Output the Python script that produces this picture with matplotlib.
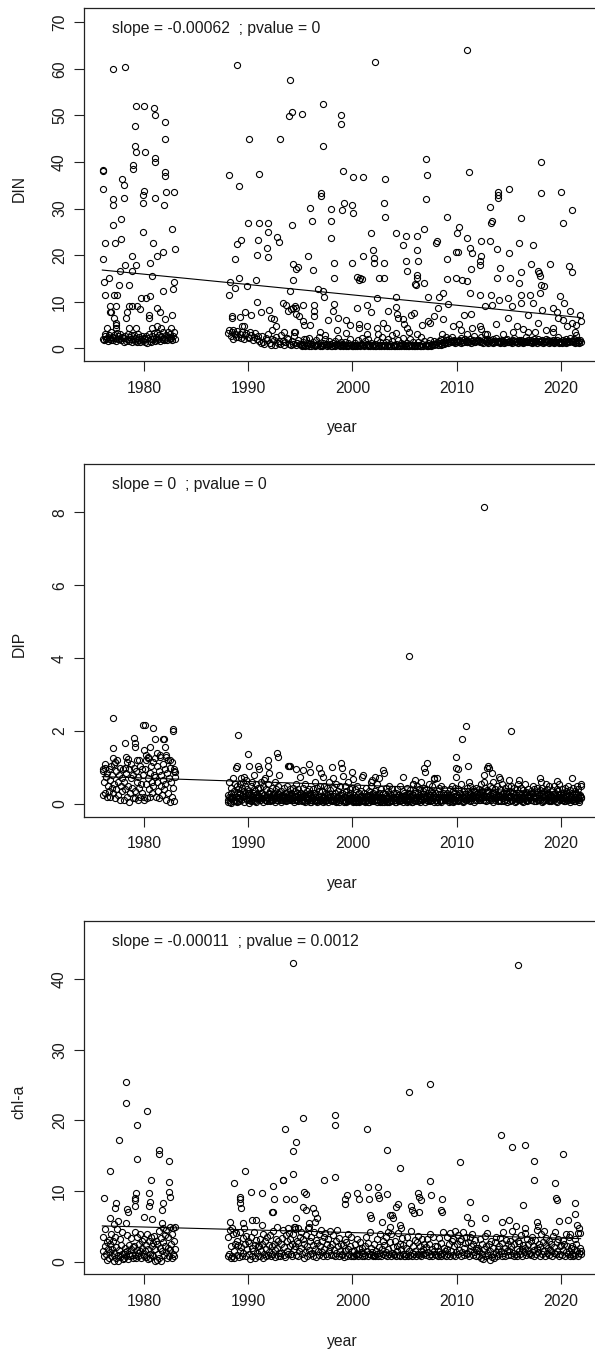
import matplotlib
matplotlib.use("Agg")
import matplotlib.pyplot as plt

plt.rcParams['font.family'] = ['Liberation Sans', 'DejaVu Sans']

# ---------------- data ----------------
x_ticks = [1980, 1990, 2000, 2010, 2020]
band_years = list(range(1976, 1983)) + list(range(1988, 2022))
late_years = list(range(1988, 2022))

# DIN: individually read points (year, value)
din_points = [
    (1976.05, 38.0), (1976.1, 38.3), (1976.05, 34.1), (1976.3, 22.7), (1976.1, 19.2), (1976.6, 15.1),
    (1976.2, 14.3), (1976.3, 11.4), (1976.7, 9.1), (1976.7, 7.7), (1976.8, 7.7), (1976.4, 4.3),
    (1977.05, 60.0), (1977.0, 32.1), (1977.0, 30.8), (1977.0, 26.5), (1977.2, 22.7), (1977.1, 11.4),
    (1977.4, 11.4), (1977.3, 9.1), (1977.1, 6.6), (1977.3, 5.5), (1977.3, 5.0), (1977.3, 4.3),
    (1977.6, 13.6), (1977.7, 16.6), (1977.8, 23.5), (1977.8, 27.8), (1977.9, 36.4),
    (1978.1, 35.0), (1978.1, 32.2), (1978.2, 60.5), (1978.2, 17.8), (1978.3, 6.5), (1978.4, 7.7),
    (1978.6, 9.1), (1978.6, 13.6), (1978.6, 4.3), (1978.8, 16.5), (1978.8, 19.8), (1978.9, 39.3),
    (1978.95, 38.5), (1978.8, 9.1),
    (1979.1, 47.7), (1979.1, 43.5), (1979.2, 42.1), (1979.2, 52.0), (1979.2, 17.8), (1979.2, 4.3),
    (1979.3, 9.1), (1979.6, 8.4), (1979.7, 10.7),
    (1979.9, 32.9), (1979.9, 31.3), (1979.9, 25.0), (1980.0, 52.0), (1980.0, 33.7), (1980.1, 42.1),
    (1980.2, 10.7), (1980.5, 7.2), (1980.5, 6.6), (1980.6, 11.3), (1980.6, 18.4), (1980.8, 15.6),
    (1980.8, 4.3), (1980.9, 22.7),
    (1981.0, 51.5), (1981.1, 50.1), (1981.1, 40.8), (1981.1, 40.0), (1981.1, 32.2), (1981.2, 19.8),
    (1981.2, 8.6), (1981.2, 4.7), (1981.5, 7.7), (1981.6, 4.4), (1981.8, 20.7), (1981.8, 12.2),
    (1981.9, 30.8),
    (1982.0, 48.6), (1982.0, 44.9), (1982.0, 37.9), (1982.05, 37.0), (1982.1, 33.6), (1982.0, 6.3),
    (1982.6, 4.3), (1982.7, 7.1), (1982.7, 25.6), (1982.8, 12.8), (1982.9, 14.3), (1982.9, 33.6),
    (1983.0, 21.3),
    (1988.2, 11.4), (1988.3, 14.3), (1988.4, 6.9), (1988.4, 6.5), (1988.5, 3.9), (1988.7, 3.1),
    (1988.7, 13.0), (1988.7, 19.2), (1988.9, 22.5), (1989.1, 15.0), (1989.1, 34.9), (1988.2, 37.2),
    (1988.95, 60.8), (1990.1, 44.9), (1991.0, 37.5), (1993.05, 44.9),
    (1989.3, 23.3), (1989.4, 4.7), (1989.6, 4.7), (1989.7, 7.8), (1989.9, 13.4), (1990.0, 27.0),
    (1989.2, 6.8), (1990.3, 7.1), (1990.7, 14.7), (1990.8, 20.0), (1990.8, 10.0), (1990.9, 23.3),
    (1991.0, 27.0), (1991.2, 7.7), (1991.8, 21.6), (1991.9, 19.6), (1991.9, 27.0), (1991.9, 25.0),
    (1992.0, 8.3), (1992.2, 6.5), (1992.5, 6.3), (1992.7, 4.8), (1992.3, 3.9), (1992.8, 24.0),
    (1993.0, 22.9), (1993.3, 9.7), (1993.6, 9.2), (1993.8, 7.9), (1994.1, 8.5), (1994.5, 9.1),
    (1993.4, 3.5), (1994.4, 3.5), (1994.2, 26.5), (1994.3, 18.2), (1994.6, 17.0), (1994.3, 14.7),
    (1993.95, 49.9), (1994.2, 50.8), (1994.05, 57.7), (1994.0, 12.3), (1994.8, 17.4),
    (1995.2, 50.3), (1997.2, 52.4), (1998.9, 50.1), (1998.95, 48.1), (2002.2, 61.4), (2011.0, 64.0),
    (1997.2, 43.5), (2007.1, 40.6), (2007.2, 37.2), (2011.2, 37.9), (2018.1, 40.1), (1999.1, 38.1),
    (2000.1, 36.8), (2001.0, 36.8), (2003.1, 36.4), (1997.0, 33.3), (1997.0, 32.6), (2014.0, 33.6),
    (2014.0, 32.9), (2014.0, 32.2), (2015.0, 34.1), (2018.1, 33.3), (2020.0, 33.6), (2021.1, 29.6),
    (2020.2, 26.8), (1995.9, 30.1), (1996.1, 27.3), (1997.9, 30.0), (1997.9, 27.3), (1997.9, 23.6),
    (1999.0, 29.6), (1999.2, 31.3), (2000.0, 30.8), (2000.1, 29.0), (2003.0, 31.3), (2003.1, 28.1),
    (2007.1, 32.1), (1995.7, 19.9), (1996.2, 16.8),
    (1998.2, 18.3), (1998.2, 15.1), (2000.0, 18.3), (2000.4, 15.3), (2000.6, 14.6), (2000.7, 15.0),
    (2000.9, 14.9), (2001.0, 19.9), (2001.8, 24.7), (2002.0, 21.0), (2002.1, 19.4), (2002.1, 18.3),
    (2003.0, 18.3), (2002.6, 15.1), (2003.0, 15.1), (2004.2, 24.8), (2005.1, 24.2), (2006.2, 24.2),
    (2006.9, 25.6), (2004.9, 22.2), (2006.2, 21.0), (2005.1, 18.8), (2006.3, 18.8), (2005.2, 16.6),
    (2006.2, 15.8), (2006.2, 15.1), (2006.0, 13.9), (2006.1, 13.6), (2006.9, 14.0), (2008.0, 22.7),
    (2008.1, 23.0), (2009.1, 28.1), (2010.0, 24.8), (2010.2, 26.0), (2011.0, 23.6), (2009.1, 19.2),
    (2009.9, 20.6), (2010.1, 20.6), (2009.1, 14.8), (2009.9, 15.2), (2010.5, 14.6), (2011.0, 14.4),
    (2011.3, 21.5), (2011.5, 20.5), (2011.4, 17.1), (2012.3, 23.1), (2012.3, 19.9), (2012.2, 18.8),
    (2012.2, 17.9), (2013.2, 23.0), (2013.3, 27.0), (2013.35, 27.3), (2013.2, 30.4), (2013.9, 21.3),
    (2015.0, 20.5), (2014.2, 17.3), (2013.9, 15.1), (2015.1, 15.0), (2016.0, 22.6), (2016.2, 28.0),
    (2017.3, 22.2), (2016.2, 16.4), (2017.1, 18.1), (2017.8, 16.5), (2017.9, 16.2), (2018.0, 15.6),
    (2019.0, 18.0), (2018.1, 13.6), (2016.0, 14.0), (2020.8, 17.6), (2021.1, 16.3), (2019.9, 11.3),
    (2020.3, 9.8),
    (1994.3, 8.7), (1994.6, 8.7), (1995.3, 9.4), (1995.3, 5.8), (1995.4, 5.1), (1996.3, 9.4),
    (1996.3, 8.0), (1996.3, 6.9), (1996.7, 12.8), (1997.2, 12.4), (1997.3, 11.1), (1995.9, 5.1),
    (1997.7, 6.1), (1998.1, 8.0), (1998.2, 9.6), (1999.4, 6.1), (2000.4, 8.7), (2000.6, 5.3),
    (2001.4, 9.4), (2001.8, 7.7), (2002.4, 10.8), (2004.2, 11.1), (2004.2, 8.9), (2004.3, 7.3),
    (2004.4, 6.5), (2004.9, 6.3), (2005.6, 7.2), (2005.9, 7.6), (2007.3, 11.1), (2008.3, 11.1),
    (2008.7, 11.9), (2009.2, 9.6), (2008.2, 8.7), (2007.8, 6.9), (2008.7, 6.3), (2007.3, 5.8),
    (2009.7, 4.7), (2010.2, 5.3), (2010.7, 7.2), (2011.4, 7.4), (2011.3, 11.8), (2012.2, 11.4),
    (2013.3, 11.4), (2013.4, 9.4), (2012.7, 9.1), (2014.1, 10.4), (2014.9, 10.8), (2015.3, 9.1),
    (2014.9, 6.5), (2016.2, 11.4), (2016.2, 9.7), (2017.0, 11.4), (2017.3, 9.7), (2018.0, 11.8),
    (2018.4, 13.4), (2018.2, 8.3), (2016.9, 7.2), (2017.8, 5.4), (2019.3, 8.6), (2019.6, 7.7),
    (2020.9, 8.1), (2021.8, 7.2), (2021.9, 5.8), (2021.5, 5.1), (2019.7, 6.5), (2020.2, 6.1),
    (1994.6, 7.4), (1994.9, 6.9), (1998.6, 6.4), (1999.8, 4.9), (2002.9, 5.5), (2003.4, 7.9),
    (2005.0, 5.2),
    (1994.5, 3.6), (1995.4, 2.1), (1996.9, 3.6), (1997.4, 2.9), (1998.5, 4.0), (1999.4, 3.2),
    (2000.6, 4.3), (2001.4, 4.7), (2001.4, 3.1), (2002.4, 4.3), (2002.5, 3.1), (2003.3, 4.3),
    (2003.8, 2.9), (2004.2, 3.2), (2005.2, 4.3), (2005.4, 3.4), (2006.2, 3.1), (2006.7, 5.0),
    (2007.4, 5.4), (2008.6, 3.1), (2009.0, 2.5), (2010.4, 4.0), (2011.0, 3.1), (2011.5, 4.3),
    (2012.2, 4.7), (2012.3, 4.1), (2012.9, 3.1), (2013.8, 5.2), (2014.5, 3.1), (2015.4, 3.6),
    (2015.8, 4.7), (2016.4, 4.1), (2016.9, 3.6), (2017.5, 3.4), (2018.6, 4.0), (2019.3, 4.3),
    (2019.3, 3.6), (2020.6, 4.7), (2021.1, 5.4), (2021.4, 3.6), (2021.5, 2.9),
]

# DIN: routine low-level samples, one row per year (spread through the year)
din_band = [
    [2.0, 1.7, 2.6, 3.1, 1.9, 2.3, 1.6, 2.8, 2.1, 3.4, 1.8, 2.5],
    [1.8, 2.9, 2.2, 1.5, 3.3, 2.0, 2.6, 1.9, 3.0, 1.7, 2.4, 2.2],
    [1.3, 2.2, 2.7, 1.6, 2.0, 3.0, 1.5, 2.4, 1.9, 2.8, 1.4, 2.1],
    [2.9, 1.5, 2.2, 1.3, 3.1, 1.8, 2.5, 1.4, 2.0, 2.7, 1.6, 2.3],
    [2.0, 1.4, 2.7, 1.2, 2.3, 3.0, 1.6, 2.1, 1.3, 2.6, 1.9, 3.2],
    [1.6, 2.4, 3.2, 1.8, 2.1, 2.9, 1.5, 2.6, 2.0, 3.4, 1.7, 2.3],
    [2.0, 2.8, 1.7, 3.5, 2.4, 1.9, 3.0, 2.2, 1.8, 2.7, 3.6, 2.1],
    [3.2, 4.0, 2.6, 3.5, 1.9, 3.0, 2.4, 3.7],
    [2.4, 3.1, 2.2, 3.6, 2.0, 2.8, 3.3, 2.5],
    [2.2, 3.4, 2.9, 1.8, 2.5, 3.2, 2.0, 2.7],
    [1.5, 1.1, 2.6, 1.4, 0.9, 2.2, 1.8, 3.0],
    [1.2, 0.6, 1.9, 1.7, 0.8, 2.4, 1.1, 1.5],
    [1.0, 2.8, 1.6, 0.7, 1.3, 2.2, 1.9, 0.9],
    [0.8, 1.5, 1.0, 2.6, 0.7, 1.2, 1.8, 0.9],
    [0.6, 1.0, 0.4, 1.4, 0.8, 0.5, 1.9, 0.7, 1.1, 0.5, 2.3, 0.9],
    [0.5, 0.9, 1.3, 0.6, 0.4, 1.7, 0.8, 0.6, 1.0, 2.4, 0.5, 0.7],
    [0.8, 0.5, 1.2, 0.6, 2.0, 0.9, 0.4, 0.7, 1.5, 0.6, 1.0, 0.5],
    [0.4, 1.1, 0.7, 0.5, 1.6, 0.9, 0.6, 2.2, 0.8, 0.5, 1.3, 0.7],
    [0.9, 0.4, 0.6, 1.4, 0.5, 0.8, 1.1, 0.4, 0.7, 2.0, 0.6, 0.5],
    [0.5, 0.8, 0.4, 1.2, 0.6, 0.5, 1.8, 0.7, 0.4, 1.0, 0.6, 2.3],
    [0.7, 0.4, 1.5, 0.6, 0.9, 0.5, 2.1, 0.8, 0.4, 1.2, 0.6, 0.5],
    [0.6, 1.0, 0.5, 0.4, 1.8, 0.7, 0.5, 1.3, 0.6, 0.4, 2.5, 0.8],
    [0.5, 0.7, 1.4, 0.4, 0.6, 2.0, 0.5, 0.9, 0.4, 1.6, 0.6, 0.5],
    [0.4, 0.6, 0.9, 0.5, 1.7, 0.4, 0.7, 0.5, 1.2, 0.6, 2.2, 0.5],
    [0.6, 0.4, 1.1, 0.5, 0.8, 0.4, 1.9, 0.6, 0.5, 1.4, 0.4, 0.7],
    [0.5, 0.8, 0.4, 1.3, 0.6, 0.5, 2.4, 0.4, 0.9, 0.5, 1.6, 0.6],
    [0.7, 0.5, 1.2, 0.4, 0.6, 1.8, 0.5, 0.8, 1.0, 0.6, 1.5, 0.9],
    [0.9, 1.3, 0.7, 1.6, 1.1, 0.8, 2.1, 1.0, 1.4, 0.9, 1.2, 1.8],
    [1.4, 1.7, 1.2, 1.9, 1.5, 1.3, 2.4, 1.6, 1.4, 1.8, 1.2, 1.5],
    [1.6, 1.3, 1.8, 1.5, 1.2, 2.2, 1.4, 1.7, 1.3, 1.9, 1.5, 1.4],
    [1.3, 1.6, 1.4, 2.0, 1.2, 1.5, 1.7, 1.3, 2.6, 1.4, 1.6, 1.8],
    [1.5, 1.8, 1.3, 1.6, 2.4, 1.4, 1.2, 1.7, 3.0, 1.5, 1.3, 1.9],
    [1.2, 1.5, 1.7, 1.3, 1.4, 1.9, 1.2, 1.6, 1.4, 2.2, 1.3, 1.5],
    [1.4, 1.2, 1.6, 1.3, 1.8, 1.5, 1.2, 1.4, 1.7, 1.3, 2.0, 1.4],
    [1.3, 1.6, 1.4, 1.2, 1.7, 1.5, 2.3, 1.3, 1.4, 1.6, 1.2, 1.8],
    [1.5, 1.3, 1.8, 1.4, 1.2, 1.6, 1.3, 2.5, 1.5, 1.4, 1.7, 1.3],
    [1.4, 1.7, 1.2, 1.5, 1.3, 1.9, 1.4, 1.6, 1.2, 2.1, 1.5, 1.3],
    [1.3, 1.5, 1.7, 1.2, 1.4, 1.6, 2.0, 1.3, 1.5, 1.8, 1.2, 1.4],
    [1.6, 1.3, 1.4, 1.8, 1.2, 1.5, 1.3, 1.7, 2.4, 1.4, 1.2, 1.6],
    [1.4, 1.2, 1.7, 1.3, 1.5, 1.9, 1.2, 1.4, 1.6, 1.3, 2.2, 1.5],
    [1.5, 1.3, 1.6, 2.0, 1.2, 1.4, 1.8, 1.3, 1.5, 1.2, 1.7, 1.4],
]

# DIP
dip_points = [
    (1977.05, 2.35), (1979.95, 2.17), (1980.05, 2.17), (1980.9, 2.08), (1982.75, 2.05), (1982.8, 2.0),
    (1979.0, 1.82), (1978.2, 1.66), (1979.1, 1.66), (1979.15, 1.57), (1981.1, 1.78), (1981.8, 1.78),
    (1981.9, 1.78), (1977.0, 1.53), (1980.0, 1.48), (1980.6, 1.57), (1982.0, 1.55), (1977.0, 1.25),
    (1977.2, 1.15), (1978.3, 1.28), (1978.5, 1.22), (1979.5, 1.2), (1980.2, 1.35), (1980.4, 1.25),
    (1981.2, 1.4), (1981.5, 1.3), (1982.1, 1.35), (1982.5, 1.2), (1982.9, 0.95), (1983.0, 0.88),
    (1976.1, 0.95), (1976.3, 1.1),
    (1989.0, 1.88), (1990.0, 1.37), (1988.8, 1.0), (1988.9, 1.05), (1990.1, 1.03), (1990.9, 1.03),
    (1991.0, 0.95), (1991.9, 1.2), (1991.9, 1.05), (1992.0, 0.85), (1992.8, 1.4), (1992.9, 1.28),
    (1993.8, 1.05), (1993.9, 1.05), (1994.6, 0.95), (1989.6, 0.75), (1990.6, 0.8), (1991.5, 0.65),
    (1993.0, 0.8),
    (1994.0, 1.04), (1995.0, 0.75), (1995.3, 0.93), (1995.8, 1.1), (1995.9, 0.89), (1996.8, 0.98),
    (1997.0, 0.86), (1997.2, 0.75), (1998.0, 1.02), (1998.1, 0.70), (1998.9, 1.12), (1999.0, 0.98),
    (1999.05, 0.77), (2000.0, 0.89), (2000.1, 0.68), (2000.9, 0.73), (2001.0, 0.80), (2001.9, 0.66),
    (2002.2, 0.75), (2002.6, 0.70), (2002.9, 0.93), (2003.0, 0.84), (2001.8, 0.61),
    (2004.9, 0.73), (2005.4, 4.07), (2007.2, 1.12), (2006.9, 1.0), (2007.0, 0.89), (2008.1, 0.72),
    (2007.8, 0.68), (2009.9, 1.3), (2009.9, 1.0), (2010.1, 0.95), (2010.5, 1.78), (2010.9, 2.14),
    (2011.05, 1.05), (2009.9, 0.73), (2011.2, 0.61), (2006.0, 0.65), (2005.8, 0.55),
    (2012.6, 8.15), (2012.9, 1.0), (2013.1, 0.98), (2013.4, 0.86), (2014.1, 0.73), (2014.2, 0.68),
    (2015.2, 2.0), (2015.0, 0.66), (2016.0, 0.66), (2018.0, 0.70), (2018.1, 0.61), (2019.6, 0.63),
    (2021.1, 0.70), (2021.9, 0.48), (2012.6, 0.8), (2013.0, 1.05),
]

dip_band = [
    [0.9, 0.25, 0.6, 1.0, 0.3, 0.75, 0.2, 0.85, 0.5, 0.95, 0.35, 0.65, 0.2, 1.05, 0.45, 0.8],
    [0.3, 1.1, 0.55, 0.15, 0.9, 0.4, 1.2, 0.6, 0.25, 0.8, 0.1, 1.0, 0.5, 0.7, 0.35, 0.95],
    [0.6, 0.1, 1.0, 0.4, 0.85, 0.2, 1.15, 0.5, 0.05, 0.95, 0.3, 0.7, 1.1, 0.45, 0.15, 0.8],
    [1.0, 0.35, 0.15, 0.9, 0.6, 1.2, 0.1, 0.75, 0.45, 1.05, 0.2, 0.55, 0.95, 0.3, 0.8, 0.12],
    [0.2, 0.95, 0.55, 1.2, 0.15, 0.7, 1.3, 0.4, 0.85, 0.2, 1.05, 0.6, 0.3, 1.15, 0.5, 0.8],
    [0.75, 1.25, 0.2, 0.6, 1.05, 0.35, 0.9, 0.15, 1.35, 0.5, 0.8, 0.25, 1.1, 0.65, 0.4, 0.95],
    [0.55, 1.3, 0.1, 0.85, 1.2, 0.3, 0.7, 0.05, 1.0, 0.6, 0.2, 1.15, 0.45, 0.9, 0.08, 0.75],
    [0.05, 0.25, 0.6, 0.15, 0.03, 0.45, 0.2, 0.7, 0.1, 0.35, 0.55, 0.08, 0.3, 0.5],
    [0.4, 0.15, 0.55, 0.3, 0.7, 0.45, 0.2, 0.6, 0.35, 0.5, 0.25, 0.65, 0.4, 0.3],
    [0.03, 0.3, 0.15, 0.5, 0.1, 0.6, 0.2, 0.4, 0.08, 0.35, 0.55, 0.15, 0.45, 0.25],
    [0.2, 0.45, 0.1, 0.6, 0.3, 0.15, 0.5, 0.25, 0.7, 0.12, 0.4, 0.2, 0.55, 0.3],
    [0.15, 0.35, 0.1, 0.25, 0.45, 0.12, 0.3, 0.6, 0.18, 0.4, 0.1, 0.28, 0.5, 0.2],
    [0.12, 0.2, 0.35, 0.1, 0.25, 0.15, 0.45, 0.12, 0.3, 0.2, 0.5, 0.15, 0.28, 0.4],
    [0.15, 0.3, 0.12, 0.22, 0.45, 0.1, 0.35, 0.18, 0.55, 0.12, 0.25, 0.4, 0.15, 0.3],
    [0.1, 0.3, 0.18, 0.45, 0.08, 0.25, 0.55, 0.15, 0.35, 0.1, 0.22, 0.4, 0.12, 0.3],
    [0.25, 0.1, 0.4, 0.15, 0.3, 0.6, 0.08, 0.2, 0.45, 0.12, 0.35, 0.18, 0.5, 0.1],
    [0.15, 0.35, 0.1, 0.5, 0.2, 0.08, 0.3, 0.45, 0.12, 0.25, 0.6, 0.1, 0.38, 0.2],
    [0.1, 0.22, 0.45, 0.12, 0.3, 0.08, 0.55, 0.18, 0.35, 0.1, 0.25, 0.5, 0.15, 0.3],
    [0.3, 0.12, 0.2, 0.5, 0.08, 0.35, 0.15, 0.6, 0.1, 0.25, 0.4, 0.12, 0.2, 0.45],
    [0.08, 0.25, 0.12, 0.4, 0.06, 0.2, 0.5, 0.1, 0.3, 0.08, 0.18, 0.35, 0.1, 0.22],
    [0.12, 0.3, 0.08, 0.2, 0.45, 0.1, 0.25, 0.06, 0.35, 0.15, 0.5, 0.1, 0.28, 0.18],
    [0.2, 0.08, 0.35, 0.12, 0.25, 0.55, 0.1, 0.3, 0.15, 0.06, 0.4, 0.2, 0.1, 0.3],
    [0.1, 0.28, 0.45, 0.15, 0.06, 0.35, 0.2, 0.5, 0.1, 0.25, 0.08, 0.4, 0.18, 0.3],
    [0.15, 0.06, 0.3, 0.2, 0.4, 0.1, 0.25, 0.08, 0.5, 0.18, 0.12, 0.35, 0.22, 0.1],
    [0.25, 0.1, 0.18, 0.45, 0.08, 0.3, 0.12, 0.38, 0.2, 0.06, 0.28, 0.55, 0.15, 0.35],
    [0.3, 0.12, 0.5, 0.2, 0.08, 0.4, 0.15, 0.28, 0.6, 0.1, 0.35, 0.18, 0.45, 0.22],
    [0.15, 0.4, 0.1, 0.3, 0.55, 0.2, 0.08, 0.35, 0.12, 0.5, 0.25, 0.7, 0.18, 0.3],
    [0.2, 0.1, 0.35, 0.15, 0.45, 0.08, 0.28, 0.5, 0.12, 0.3, 0.18, 0.4, 0.1, 0.25],
    [0.12, 0.3, 0.2, 0.06, 0.4, 0.15, 0.25, 0.5, 0.1, 0.35, 0.08, 0.22, 0.45, 0.18],
    [0.25, 0.08, 0.4, 0.18, 0.3, 0.1, 0.55, 0.2, 0.06, 0.35, 0.15, 0.28, 0.12, 0.45],
    [0.1, 0.35, 0.2, 0.5, 0.08, 0.28, 0.15, 0.4, 0.25, 0.06, 0.32, 0.18, 0.45, 0.12],
    [0.2, 0.4, 0.1, 0.3, 0.55, 0.15, 0.35, 0.25, 0.6, 0.12, 0.45, 0.22, 0.38, 0.3],
    [0.35, 0.2, 0.5, 0.25, 0.12, 0.45, 0.3, 0.6, 0.18, 0.4, 0.28, 0.15, 0.5, 0.22],
    [0.25, 0.1, 0.4, 0.2, 0.55, 0.15, 0.3, 0.08, 0.45, 0.22, 0.35, 0.12, 0.28, 0.5],
    [0.15, 0.35, 0.22, 0.5, 0.1, 0.3, 0.18, 0.45, 0.25, 0.08, 0.4, 0.2, 0.55, 0.12],
    [0.3, 0.12, 0.45, 0.2, 0.08, 0.38, 0.25, 0.55, 0.15, 0.32, 0.1, 0.42, 0.2, 0.28],
    [0.2, 0.35, 0.1, 0.28, 0.5, 0.15, 0.4, 0.22, 0.08, 0.32, 0.45, 0.12, 0.25, 0.38],
    [0.12, 0.3, 0.45, 0.18, 0.08, 0.35, 0.22, 0.55, 0.15, 0.4, 0.25, 0.1, 0.5, 0.2],
    [0.25, 0.1, 0.38, 0.2, 0.48, 0.12, 0.3, 0.08, 0.42, 0.18, 0.35, 0.55, 0.15, 0.28],
    [0.18, 0.4, 0.12, 0.3, 0.08, 0.45, 0.22, 0.35, 0.1, 0.5, 0.25, 0.15, 0.38, 0.2],
    [0.3, 0.12, 0.45, 0.2, 0.35, 0.08, 0.28, 0.5, 0.15, 0.4, 0.1, 0.25, 0.55, 0.18],
]

# DIP: second station low-level samples, 1988-2021
dip_band2 = [
    [0.1, 0.2, 0.05, 0.3, 0.15, 0.08, 0.25, 0.12, 0.2, 0.06],
    [0.18, 0.08, 0.28, 0.12, 0.22, 0.05, 0.3, 0.15, 0.1, 0.25],
    [0.12, 0.25, 0.08, 0.18, 0.3, 0.1, 0.2, 0.05, 0.28, 0.15],
    [0.22, 0.1, 0.3, 0.15, 0.06, 0.25, 0.12, 0.2, 0.08, 0.28],
    [0.08, 0.2, 0.12, 0.28, 0.15, 0.05, 0.22, 0.1, 0.3, 0.18],
    [0.15, 0.06, 0.25, 0.1, 0.2, 0.3, 0.08, 0.18, 0.12, 0.22],
    [0.1, 0.28, 0.15, 0.05, 0.22, 0.12, 0.3, 0.08, 0.18, 0.25],
    [0.2, 0.08, 0.12, 0.25, 0.06, 0.18, 0.1, 0.28, 0.15, 0.05],
    [0.06, 0.18, 0.25, 0.1, 0.3, 0.12, 0.05, 0.2, 0.08, 0.22],
    [0.15, 0.05, 0.2, 0.08, 0.12, 0.25, 0.06, 0.18, 0.28, 0.1],
    [0.08, 0.22, 0.1, 0.3, 0.05, 0.15, 0.2, 0.06, 0.12, 0.25],
    [0.12, 0.06, 0.18, 0.05, 0.25, 0.08, 0.15, 0.3, 0.1, 0.2],
    [0.05, 0.15, 0.08, 0.2, 0.1, 0.28, 0.06, 0.12, 0.22, 0.08],
    [0.18, 0.1, 0.05, 0.22, 0.12, 0.06, 0.25, 0.15, 0.08, 0.3],
    [0.1, 0.25, 0.12, 0.06, 0.18, 0.3, 0.08, 0.2, 0.05, 0.15],
    [0.06, 0.12, 0.22, 0.08, 0.15, 0.05, 0.28, 0.1, 0.18, 0.12],
    [0.12, 0.05, 0.18, 0.25, 0.08, 0.15, 0.1, 0.22, 0.06, 0.3],
    [0.2, 0.1, 0.06, 0.15, 0.28, 0.08, 0.18, 0.05, 0.25, 0.12],
    [0.08, 0.18, 0.3, 0.1, 0.05, 0.22, 0.12, 0.28, 0.15, 0.06],
    [0.15, 0.22, 0.08, 0.12, 0.25, 0.1, 0.3, 0.15, 0.06, 0.2],
    [0.1, 0.06, 0.2, 0.28, 0.12, 0.05, 0.18, 0.25, 0.1, 0.15],
    [0.18, 0.12, 0.25, 0.08, 0.2, 0.15, 0.06, 0.3, 0.12, 0.22],
    [0.12, 0.2, 0.1, 0.3, 0.15, 0.25, 0.08, 0.18, 0.28, 0.1],
    [0.25, 0.15, 0.3, 0.12, 0.22, 0.18, 0.35, 0.1, 0.2, 0.28],
    [0.15, 0.28, 0.1, 0.2, 0.32, 0.12, 0.25, 0.18, 0.08, 0.22],
    [0.2, 0.1, 0.25, 0.15, 0.05, 0.3, 0.12, 0.22, 0.18, 0.08],
    [0.12, 0.22, 0.08, 0.28, 0.15, 0.1, 0.2, 0.3, 0.06, 0.18],
    [0.18, 0.08, 0.22, 0.12, 0.3, 0.15, 0.05, 0.25, 0.1, 0.2],
    [0.1, 0.25, 0.15, 0.05, 0.2, 0.28, 0.12, 0.08, 0.22, 0.15],
    [0.22, 0.12, 0.3, 0.18, 0.08, 0.2, 0.15, 0.28, 0.1, 0.25],
    [0.15, 0.05, 0.2, 0.1, 0.25, 0.12, 0.3, 0.18, 0.08, 0.22],
    [0.08, 0.2, 0.12, 0.28, 0.15, 0.22, 0.06, 0.18, 0.25, 0.1],
    [0.2, 0.1, 0.25, 0.15, 0.08, 0.3, 0.12, 0.22, 0.05, 0.18],
    [0.12, 0.25, 0.08, 0.2, 0.3, 0.1, 0.18, 0.06, 0.22, 0.15],
]

# chl-a
chl_points = [
    (1978.25, 25.5), (1978.3, 22.5), (1980.3, 21.3), (1979.3, 19.3), (1977.6, 17.2), (1979.3, 14.6),
    (1981.4, 15.9), (1981.4, 15.2), (1982.4, 14.3), (1976.7, 12.8), (1980.7, 11.6), (1982.4, 11.3),
    (1982.4, 9.9), (1982.5, 9.2), (1976.2, 9.0), (1979.2, 9.7), (1979.1, 9.0), (1979.15, 8.8),
    (1980.5, 9.7), (1980.6, 8.5), (1980.5, 7.9), (1979.1, 7.9), (1981.8, 8.3), (1981.7, 7.4),
    (1977.3, 8.3), (1977.2, 7.6), (1978.4, 7.5), (1978.5, 7.1), (1976.7, 6.2), (1980.0, 6.4),
    (1980.8, 6.1), (1977.5, 5.8), (1977.1, 5.4), (1978.3, 5.5), (1981.7, 5.5), (1983.0, 5.0),
    (1982.75, 4.8),
    (1988.6, 11.1), (1989.7, 12.9), (1990.3, 9.9), (1991.3, 9.7), (1992.4, 10.7), (1993.3, 11.6),
    (1993.35, 11.6), (1994.3, 12.4), (1994.6, 16.9), (1994.3, 15.7), (1993.5, 18.8), (1994.3, 42.2),
    (1989.2, 8.9), (1989.25, 9.2), (1989.2, 8.3), (1989.3, 7.6), (1992.5, 8.9), (1993.6, 8.9),
    (1994.4, 8.9), (1992.3, 7.0), (1992.4, 7.0), (1990.7, 5.9), (1990.4, 5.9), (1988.3, 5.7),
    (1991.3, 5.2), (1993.8, 4.8), (1994.4, 5.0), (1994.6, 6.2), (1988.4, 4.8), (1989.5, 5.5),
    (1992.8, 5.0),
    (1995.3, 20.3), (1998.3, 20.8), (1998.3, 19.4), (2001.4, 18.8), (2003.3, 15.9), (2004.6, 13.3),
    (1997.3, 11.6), (1998.3, 12.0), (2010.3, 14.1), (2014.3, 18.0), (2015.3, 16.2), (2016.6, 16.5),
    (2017.4, 14.3), (2017.4, 11.6), (2020.2, 15.2), (2019.4, 11.1), (2019.5, 9.1), (2019.6, 8.8),
    (2021.4, 8.3), (2021.4, 6.8), (2007.4, 11.4), (2011.3, 8.5), (2016.4, 8.1), (2005.4, 24.0),
    (2007.4, 25.2), (2015.9, 42.0),
    (1995.4, 9.9), (1995.5, 9.6), (1999.3, 8.9), (1999.5, 9.5), (1999.3, 8.2), (2000.4, 9.8),
    (2000.6, 8.9), (2001.5, 10.6), (2001.6, 8.9), (2002.5, 10.6), (2002.5, 9.5), (2002.6, 9.1),
    (2003.3, 9.6), (2006.3, 9.8), (2006.4, 9.2), (2006.6, 8.8), (2007.5, 9.4), (2008.6, 8.9),
    (2008.5, 7.4), (2008.6, 7.1), (2005.6, 7.9), (2005.7, 7.3), (2005.9, 6.9), (2006.4, 7.1),
    (2004.2, 7.8), (2004.4, 8.2), (2003.9, 6.2), (2003.6, 6.6), (2003.8, 6.6),
    (1995.3, 7.8), (1995.5, 7.4), (1996.2, 7.7), (1996.4, 6.9), (1996.6, 6.2), (1996.4, 5.6),
    (1994.5, 5.0), (1994.8, 4.8), (1995.8, 5.5), (1995.8, 5.0),
    (2001.7, 6.6), (2001.8, 6.2), (2002.8, 5.7), (2003.6, 4.9), (2004.6, 5.2), (2004.7, 4.8),
    (2011.0, 6.3), (2011.4, 5.5), (2012.7, 6.2), (2014.4, 5.7), (2015.0, 6.0), (2015.7, 5.1),
    (2016.6, 4.8), (2017.7, 5.7), (2017.8, 5.1), (2019.8, 5.8), (2020.7, 6.0), (2021.6, 5.2),
    (2021.7, 4.8), (2021.8, 4.1), (2020.9, 4.0),
]

chl_band = [
    [1.5, 3.5, 0.8, 2.2, 4.6, 1.1, 0.3, 2.8, 1.8, 3.1, 0.6, 1.4, 2.5, 4.0, 0.9, 1.9],
    [2.9, 0.2, 1.3, 3.6, 0.5, 2.1, 4.7, 1.0, 0.1, 1.7, 3.2, 0.7, 2.4, 1.2, 4.2, 0.4],
    [1.1, 0.6, 2.0, 1.4, 0.9, 3.8, 1.6, 0.4, 1.2, 2.4, 0.8, 1.8, 3.4, 1.0, 0.5, 2.1],
    [2.2, 1.0, 4.2, 0.5, 1.7, 3.6, 1.3, 0.8, 2.6, 4.0, 1.5, 0.6, 3.0, 2.0, 1.1, 0.9],
    [3.3, 1.5, 0.7, 2.4, 3.9, 0.4, 1.9, 2.9, 1.2, 0.6, 3.5, 2.2, 1.0, 2.7, 0.9, 3.7],
    [0.1, 1.8, 3.0, 0.3, 2.5, 1.2, 4.4, 0.6, 2.0, 3.4, 0.2, 1.5, 2.8, 4.8, 1.0, 3.8],
    [2.3, 4.5, 1.4, 0.6, 3.6, 2.0, 0.9, 4.9, 1.7, 2.6, 0.5, 3.9, 1.2, 2.9, 0.8, 1.9],
    [0.8, 3.6, 1.2, 4.5, 0.5, 2.3, 0.9, 3.9, 1.5, 0.6, 2.6, 4.1, 1.0, 3.0],
    [2.4, 0.7, 1.6, 4.2, 2.1, 0.9, 3.4, 1.3, 4.8, 2.6, 0.8, 3.7, 1.9, 2.9],
    [1.1, 2.7, 0.4, 3.5, 2.0, 0.9, 1.6, 4.3, 0.6, 2.4, 3.1, 1.3, 0.8, 2.2],
    [2.2, 0.8, 3.3, 1.5, 2.6, 0.6, 4.0, 1.2, 2.9, 0.9, 1.8, 3.6, 1.0, 2.4],
    [1.4, 3.8, 0.9, 2.2, 1.1, 4.4, 2.6, 0.7, 1.7, 3.2, 2.0, 0.8, 2.9, 1.3],
    [0.8, 2.6, 1.3, 3.4, 4.5, 1.0, 2.1, 0.7, 3.8, 1.6, 2.9, 1.1, 4.1, 2.3],
    [3.3, 1.2, 2.5, 0.9, 3.9, 1.8, 4.6, 2.2, 1.0, 3.0, 0.8, 2.7, 1.5, 3.5],
    [2.0, 4.3, 1.1, 3.2, 0.6, 2.6, 1.4, 3.8, 0.8, 2.3, 4.8, 1.7, 3.0, 1.2],
    [3.6, 1.3, 2.4, 0.9, 4.2, 1.9, 3.1, 0.7, 2.7, 1.5, 3.9, 1.0, 2.2, 4.5],
    [1.4, 2.9, 0.8, 3.5, 1.9, 4.1, 1.1, 2.5, 0.9, 3.2, 1.6, 4.4, 2.1, 1.0],
    [2.6, 1.0, 3.8, 1.7, 0.8, 2.9, 1.3, 4.5, 2.2, 0.9, 3.4, 1.5, 2.5, 1.1],
    [1.0, 2.4, 0.7, 3.3, 1.6, 2.8, 0.9, 1.9, 4.0, 1.2, 2.2, 0.8, 3.6, 1.5],
    [0.9, 1.6, 0.8, 2.5, 1.2, 1.0, 3.2, 0.9, 1.8, 1.1, 2.8, 1.4, 0.8, 2.0],
    [1.3, 0.9, 2.2, 1.0, 3.6, 1.5, 0.8, 2.7, 1.2, 4.2, 1.0, 2.0, 1.4, 0.9],
    [1.0, 2.6, 0.9, 1.5, 3.3, 1.1, 0.8, 2.1, 1.3, 4.0, 0.9, 1.8, 2.9, 1.2],
    [2.4, 1.0, 3.5, 1.4, 0.9, 4.3, 1.8, 1.1, 2.8, 0.8, 3.9, 1.3, 2.1, 1.0],
    [1.2, 3.0, 0.9, 2.2, 1.5, 4.1, 1.0, 2.6, 0.8, 1.8, 3.4, 1.1, 2.4, 0.9],
    [0.8, 2.0, 1.2, 3.5, 0.9, 1.6, 2.7, 1.0, 4.4, 1.3, 0.8, 2.3, 1.1, 3.1],
    [1.5, 0.9, 2.8, 1.2, 3.7, 1.0, 2.2, 1.6, 0.8, 3.3, 1.9, 1.1, 2.6, 1.3],
    [2.1, 1.0, 3.2, 1.4, 0.8, 2.5, 4.0, 1.2, 1.8, 0.9, 3.6, 1.5, 2.3, 1.1],
    [1.0, 2.3, 0.8, 1.6, 3.4, 1.1, 0.9, 2.7, 1.3, 4.2, 1.0, 2.0, 1.5, 0.8],
    [1.9, 3.6, 1.2, 2.6, 0.8, 4.1, 1.5, 2.9, 1.0, 3.3, 2.2, 0.9, 4.4, 1.4],
    [2.5, 1.1, 3.8, 1.7, 2.9, 0.8, 3.3, 1.4, 4.3, 2.0, 1.0, 2.7, 3.6, 1.3],
    [1.2, 2.8, 0.9, 3.5, 1.6, 2.2, 4.0, 1.0, 2.5, 1.4, 3.1, 0.8, 2.0, 1.7],
    [2.0, 0.9, 1.5, 3.2, 0.6, 1.1, 2.6, 0.4, 1.8, 3.7, 0.8, 2.3, 1.3, 4.1],
    [1.0, 2.5, 0.3, 1.6, 3.0, 0.7, 2.0, 1.2, 0.5, 2.8, 1.4, 3.5, 0.9, 1.8],
    [2.3, 1.1, 3.4, 1.6, 0.8, 2.7, 4.2, 1.3, 2.0, 0.9, 3.1, 1.5, 2.5, 1.0],
    [1.5, 3.0, 1.0, 2.2, 4.4, 1.3, 0.8, 2.6, 3.6, 1.1, 1.9, 0.9, 2.9, 1.6],
    [2.7, 1.2, 3.8, 1.9, 0.9, 2.4, 1.4, 4.1, 2.0, 1.0, 3.2, 1.6, 2.5, 1.1],
    [1.3, 2.9, 1.0, 3.6, 2.2, 0.8, 1.7, 3.1, 1.2, 4.5, 2.0, 1.4, 2.6, 0.9],
    [2.1, 3.9, 1.2, 2.8, 1.6, 4.4, 0.9, 2.4, 3.4, 1.3, 2.0, 1.0, 3.0, 1.7],
    [1.6, 2.6, 0.9, 3.7, 1.3, 2.1, 4.2, 1.1, 2.8, 1.5, 3.3, 0.8, 2.3, 1.2],
    [2.4, 1.0, 3.1, 1.7, 2.6, 0.9, 4.0, 1.4, 2.2, 1.1, 3.5, 1.6, 0.8, 2.0],
    [1.2, 2.3, 0.9, 1.8, 3.2, 1.0, 2.6, 1.5, 0.8, 4.1, 1.3, 2.0, 1.1, 1.6],
]

# fitted trend lines (year, value at ends)
trend_years = [1976.0, 2021.9]
din_trend = [16.8, 6.6]
dip_trend = [0.75, 0.31]
chl_trend = [5.1, 3.3]

labels = ["DIN", "DIP", "chl-a"]
texts = ["slope = -0.00062  ; pvalue = 0",
         "slope = 0  ; pvalue = 0",
         "slope = -0.00011  ; pvalue = 0.0012"]
y_ticks = [[0, 10, 20, 30, 40, 50, 60, 70], [0, 2, 4, 6, 8], [0, 10, 20, 30, 40]]
y_limits = [(-2.73, 73.07), (-0.35, 9.33), (-1.74, 48.24)]

# ---------------- layout ----------------
W, H, DPI = 595, 1355, 100
LEFT, RIGHT = 84.0, 600.8
boxes = [(8.0, 361.0), (464.0, 816.7), (920.7, 1274.3)]
FS = 11.3
TXT = '#1a1a1a'


def expand(years, rows):
    xs, ys = [], []
    for yr, vals in zip(years, rows):
        n = len(vals)
        for i, v in enumerate(vals):
            xs.append(yr + (i + 0.5) / n)
            ys.append(v)
    return xs, ys


fig = plt.figure(figsize=(W / DPI, H / DPI), dpi=DPI)
fig.patch.set_facecolor('white')

datasets = [(din_points, [(band_years, din_band)], din_trend),
            (dip_points, [(band_years, dip_band), (late_years, dip_band2)], dip_trend),
            (chl_points, [(band_years, chl_band)], chl_trend)]

for k, ((pts, bands, trend), (top, bot)) in enumerate(zip(datasets, boxes)):
    ax = fig.add_axes([LEFT / W, 1 - bot / H, (RIGHT - LEFT) / W, (bot - top) / H])
    style = dict(linestyle='none', marker='o', ms=4.4, mfc='none', mec='black', mew=0.8)
    for yrs, rows in bands:
        bx, by = expand(yrs, rows)
        ax.plot(bx, by, **style)
    px = [p[0] for p in pts]
    py = [p[1] for p in pts]
    ax.plot(px, py, **style)
    ax.plot(trend_years, trend, color='black', lw=0.8)
    ax.set_xlim(1974.24, 2023.84)
    ax.set_ylim(*y_limits[k])
    ax.set_xticks(x_ticks)
    ax.set_yticks(y_ticks[k])
    ax.set_yticklabels([str(t) for t in y_ticks[k]], rotation=90, va='center')
    ax.tick_params(axis='both', direction='out', length=7.2, width=0.8, labelsize=FS,
                   colors='#222222', labelcolor=TXT)
    ax.tick_params(axis='x', pad=7.0)
    ax.tick_params(axis='y', pad=5.0)
    for s in ax.spines.values():
        s.set_linewidth(0.9)
        s.set_color('#222222')
    fig.text(112 / W, 1 - (top + 21) / H, texts[k], ha='left', va='center', fontsize=FS, color=TXT)
    fig.text(342 / W, 1 - (bot + 67) / H, 'year', ha='center', va='center', fontsize=FS, color=TXT)
    fig.text(19 / W, 1 - ((top + bot) / 2 + 4) / H, labels[k], ha='center', va='center',
             rotation=90, fontsize=FS, color=TXT)

fig.savefig('out.png', dpi=DPI, facecolor='white')
